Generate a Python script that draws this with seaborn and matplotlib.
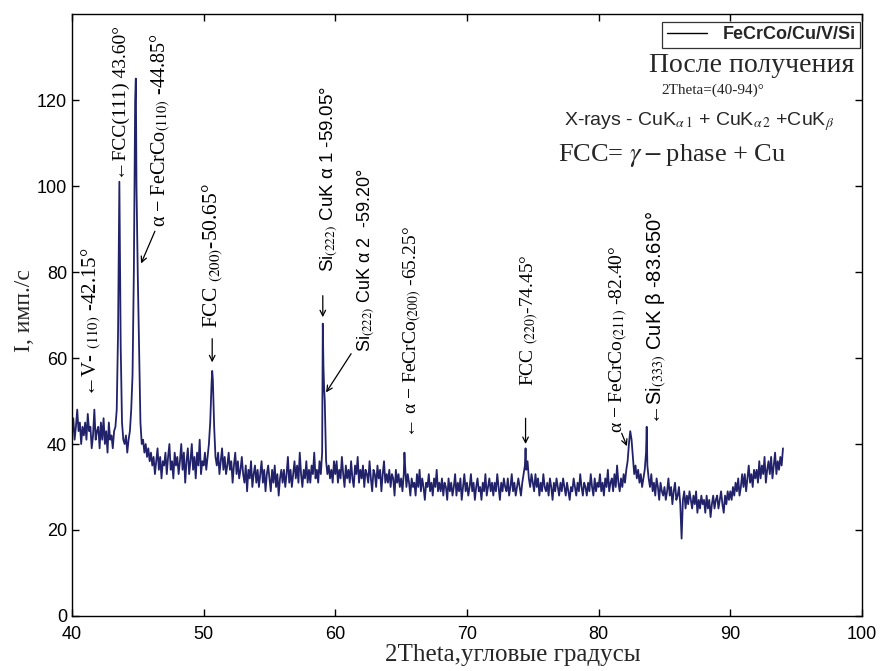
import numpy as np
import pandas as pd
import matplotlib
matplotlib.use("Agg")
import matplotlib.pyplot as plt
import seaborn as sns

# ---------------- data ----------------
two_theta_grid = np.round(np.arange(40.0, 94.0001, 0.1), 1)   # measurement grid, step 0.1 deg
intensity_grid = [
    42, 46, 41, 44, 48, 43, 45, 40, 44, 42,   # 40
    45, 41, 47, 43, 44, 39, 42, 48, 41, 43,   # 41
    44, 39, 45, 41, 46, 40, 43, 38, 45, 41,   # 42
    42, 39, 43, 44, 48, 66, 101, 63, 45, 41,  # 43
    40, 42, 38, 41, 43, 48, 56, 80, 120, 100, # 44
    79, 62, 45, 40, 41, 38, 40, 37, 39, 36,   # 45
    38, 35, 37, 33, 36, 39, 34, 37, 32, 36,   # 46
    35, 38, 33, 37, 40, 34, 36, 32, 38, 35,   # 47
    37, 33, 36, 40, 34, 38, 31, 36, 39, 33,   # 48
    36, 40, 34, 37, 32, 38, 35, 41, 33, 36,   # 49
    35, 38, 34, 37, 40, 45, 54, 55, 44, 37,   # 50
    35, 38, 33, 36, 39, 34, 37, 33, 35, 38,   # 51
    34, 36, 31, 35, 38, 33, 36, 32, 34, 37,   # 52
    33, 31, 35, 29, 34, 32, 36, 30, 33, 35,   # 53
    31, 34, 30, 33, 36, 31, 34, 29, 33, 35,   # 54
    32, 29, 34, 31, 35, 30, 33, 28, 32, 34,   # 55
    31, 34, 30, 33, 37, 31, 34, 30, 33, 36,   # 56
    32, 35, 31, 38, 33, 30, 34, 32, 36, 31,   # 57
    34, 31, 35, 33, 38, 32, 34, 31, 36, 33,   # 58
    38, 58, 50, 36, 33, 35, 32, 34, 31, 36,   # 59
    33, 36, 31, 34, 32, 37, 33, 30, 35, 32,   # 60
    34, 31, 36, 32, 30, 35, 33, 37, 31, 34,   # 61
    32, 35, 30, 34, 33, 31, 36, 32, 29, 34,   # 62
    33, 30, 35, 32, 34, 29, 33, 36, 31, 33,   # 63
    31, 34, 30, 33, 32, 28, 34, 31, 33, 30,   # 64
    32, 29, 33, 35, 30, 33, 31, 28, 32, 30,   # 65
    31, 28, 33, 30, 34, 29, 32, 30, 27, 31,   # 66
    30, 33, 29, 31, 28, 32, 30, 34, 29, 31,   # 67
    29, 32, 28, 31, 30, 27, 32, 29, 31, 28,   # 68
    30, 33, 28, 31, 29, 32, 27, 30, 33, 29,   # 69
    31, 28, 30, 33, 29, 31, 27, 30, 32, 29,   # 70
    30, 27, 31, 29, 33, 28, 30, 32, 29, 31,   # 71
    28, 31, 29, 33, 30, 27, 31, 29, 32, 30,   # 72
    29, 32, 28, 30, 33, 29, 31, 28, 30, 32,   # 73
    30, 28, 31, 33, 35, 34, 36, 32, 30, 33,   # 74
    31, 29, 33, 30, 32, 28, 31, 29, 33, 30,   # 75
    29, 31, 28, 32, 30, 27, 31, 29, 32, 30,   # 76
    28, 31, 29, 32, 30, 28, 31, 29, 27, 30,   # 77
    29, 32, 30, 28, 31, 29, 33, 30, 28, 31,   # 78
    30, 28, 31, 29, 33, 30, 28, 32, 29, 31,   # 79
    30, 33, 29, 31, 28, 32, 30, 34, 29, 31,   # 80
    32, 29, 33, 30, 35, 31, 29, 32, 30, 33,   # 81
    31, 34, 36, 40, 43, 41, 37, 33, 35, 32,   # 82
    34, 31, 33, 30, 32, 34, 38, 35, 32, 30,   # 83
    33, 29, 31, 28, 32, 30, 27, 31, 29, 28,   # 84
    30, 27, 29, 32, 28, 30, 26, 29, 31, 27,   # 85
    28, 30, 26, 18, 27, 29, 25, 28, 26, 29,   # 86
    27, 25, 28, 26, 29, 24, 27, 25, 28, 26,   # 87
    27, 24, 28, 25, 27, 23, 26, 28, 25, 27,   # 88
    28, 25, 27, 29, 26, 24, 28, 26, 29, 27,   # 89
    29, 27, 30, 28, 31, 29, 32, 28, 30, 33,   # 90
    30, 33, 29, 32, 35, 31, 33, 30, 34, 32,   # 91
    34, 31, 36, 32, 35, 33, 37, 31, 34, 36,   # 92
    33, 37, 32, 35, 38, 33, 36, 34, 37, 35,   # 93
    39,                                       # 94
]
# sharp reflections lying between grid points
peak_theta = [44.85, 50.65, 59.05, 59.15, 65.25, 74.45, 83.65]
peak_intensity = [125, 57, 68, 53, 38, 39, 44]

x_ticks = [40, 50, 60, 70, 80, 90, 100]
y_ticks = [0, 20, 40, 60, 80, 100, 120]
series_name = "FeCrCo/Cu/V/Si"

# ---------------- style ----------------
sns.set_style("ticks")
plt.rcParams["font.family"] = ["Liberation Sans", "DejaVu Sans"]
plt.rcParams["mathtext.fontset"] = "stix"
SERIF = ["Liberation Serif", "DejaVu Serif"]
SANS = ["Liberation Sans", "DejaVu Sans"]
LINE = "#22226b"

fig = plt.figure(figsize=(8.83, 6.71), dpi=100)
ax = fig.add_axes([0.0815, 0.082, 0.8947, 0.897])

df = pd.DataFrame({
    "theta": np.concatenate([two_theta_grid, peak_theta]),
    "I": np.concatenate([intensity_grid, peak_intensity]),
}).sort_values("theta")
sns.lineplot(data=df, x="theta", y="I", ax=ax, color=LINE, lw=1.3,
             estimator=None, sort=False, label=series_name)

ax.set_xlim(40, 100)
ax.set_ylim(0, 140)
ax.set_xticks(x_ticks)
ax.set_yticks(y_ticks)
ax.tick_params(direction="in", top=True, right=True, length=5, width=1,
               labelsize=13, colors="black")
ax.tick_params(axis="x", pad=7)
for s in ax.spines.values():
    s.set_color("black")
    s.set_linewidth(1.0)

ax.set_xlabel("2Theta,угловые градусы", family=SERIF, fontsize=18)
ax.xaxis.set_label_coords(0.558, -0.047)
ax.set_ylabel("I, имп./с", family=SERIF, fontsize=17)
ax.yaxis.set_label_coords(-0.047, 0.508)

leg = ax.legend(loc="upper right", bbox_to_anchor=(0.998, 0.987),
                borderaxespad=0, frameon=True, fancybox=False,
                handlelength=2.2, borderpad=0.25, handletextpad=0.9,
                prop={"family": SANS, "size": 13, "weight": "bold"})
leg.get_frame().set_edgecolor("black")
leg.get_frame().set_linewidth(0.9)
for h in leg.get_lines():
    h.set_color("black")
    h.set_linewidth(1.0)

# ---------------- annotations ----------------
rot = dict(rotation=90, ha="center", va="bottom", color="black")
arr = dict(arrowstyle="->", lw=0.9, color="black", shrinkA=0, shrinkB=0)

ax.text(41.5, 51, "←V- $_{(110)}$ -42.15°", family=SERIF, fontsize=15, **rot)
ax.text(43.78, 101.5, "←FCC(111) 43.60°", family=SERIF, fontsize=14, **rot)
ax.text(46.75, 90.5, "α − FeCrCo$_{(110)}$ -44.85°", family=SERIF, fontsize=14.5, **rot)
ax.annotate("", xy=(45.25, 82), xytext=(46.3, 89.5), arrowprops=arr)

ax.text(50.72, 67, "FCC $_{(200)}$-50.65°", family=SERIF, fontsize=15.5, **rot)
ax.annotate("", xy=(50.65, 59), xytext=(50.65, 64.5), arrowprops=arr)

ax.text(59.55, 80, "Si$_{(222)}$ CuK α 1 -59.05°", family=SANS, fontsize=13.5, **rot)
ax.annotate("", xy=(59.05, 69.5), xytext=(59.05, 74.5), arrowprops=arr)
ax.text(62.35, 61.5, "Si$_{(222)}$ CuK α 2  -59.20°", family=SANS, fontsize=13, **rot)
ax.annotate("", xy=(59.3, 52), xytext=(61.2, 61), arrowprops=arr)

ax.text(65.9, 41.5, "← α − FeCrCo$_{(200)}$ -65.25°", family=SERIF, fontsize=14, **rot)

ax.text(74.8, 53.5, "FCC $_{(220)}$-74.45°", family=SERIF, fontsize=14, **rot)
ax.annotate("", xy=(74.45, 40), xytext=(74.45, 46), arrowprops=arr)

ax.text(81.5, 42.5, "α − FeCrCo$_{(211)}$ -82.40°", family=SERIF, fontsize=14, **rot)
ax.annotate("", xy=(82.15, 39.5), xytext=(81.75, 42.5), arrowprops=arr)

ax.text(84.4, 44.5, "←Si$_{(333)}$ CuK β -83.650°", family=SANS, fontsize=14.5, **rot)

# ---------------- header text block ----------------
ax.text(91.6, 128, "После получения", family=SERIF, fontsize=20, ha="center", va="center")
ax.text(88.7, 122.3, "2Theta=(40-94)°", family=SERIF, fontsize=11, ha="center", va="center")
ax.text(87.6, 115, r"X-rays - CuK$_{\alpha\,1}$ + CuK$_{\alpha\,2}$ +CuK$_{\beta}$",
        family=SANS, fontsize=14, ha="center", va="center")
ax.text(85.6, 107, r"FCC= $\gamma-$phase + Cu", family=SERIF, fontsize=19, ha="center", va="center")

fig.savefig("out.png", dpi=100, facecolor="white")
